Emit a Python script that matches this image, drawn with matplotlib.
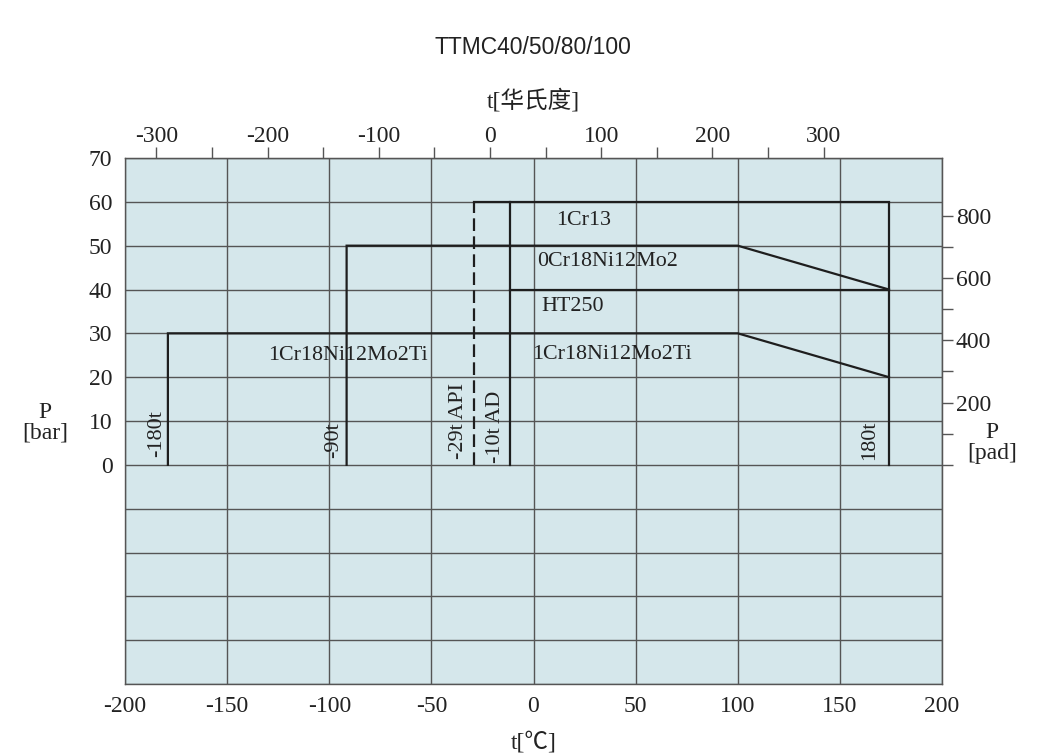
import matplotlib
matplotlib.use('Agg')
import matplotlib.pyplot as plt
from matplotlib.ticker import MultipleLocator, FixedLocator, FuncFormatter

plt.rcParams['font.family'] = ['Liberation Serif', 'Noto Sans CJK SC']
plt.rcParams['axes.unicode_minus'] = False

# pressure / temperature limit lines (t in °C, P in bar)
ti_t = [-179, -179, 100, 174]
ti_p = [0, 30, 30, 20]
mo2_t = [-91.5, -91.5, 100, 174]
mo2_p = [0, 50, 50, 40]
cr13_t = [-29, 174, 174]
cr13_p = [60, 60, 0]
ad_t = [-11.5, -11.5]
ad_p = [0, 60]
ht_t = [-11.5, 174]
ht_p = [40, 40]
api_t = [-29, -29]
api_p = [0, 60]

materials = ['1Cr13', '0Cr18Ni12Mo2', 'HT250', '1Cr18Ni12Mo2Ti', '1Cr18Ni12Mo2Ti']
mat_t = [24.6, 36.1, 19.2, -90.7, 38.3]
mat_p = [55.8, 46.3, 36.2, 25.0, 25.2]

limits = ['-180t', '-90t', '-29t API', '-10t AD', '180t']
lim_t = [-184.7, -98, -36.8, -18.7, 164.4]
lim_p = [7.1, 5.7, 10.1, 8.6, 5.5]

bg = '#d5e7eb'
grid_c = '#555555'
line_c = '#1e1e1e'
text_c = '#222222'
fs = 17

fig = plt.figure(figsize=(10.38, 7.56), dpi=100)
ax = fig.add_axes([125 / 1038, 1 - 684 / 756, 817 / 1038, 526 / 756])
ax.set_facecolor(bg)
ax.set_xlim(-200, 200)
ax.set_ylim(-50, 70)

ax.xaxis.set_major_locator(MultipleLocator(50))
ax.yaxis.set_major_locator(MultipleLocator(10))
ax.yaxis.set_major_formatter(FuncFormatter(lambda v, p: f'{v:.0f}' if v >= 0 else ''))
ax.grid(True, color=grid_c, lw=1.0)
ax.set_axisbelow(True)
ax.tick_params(axis='both', length=0, labelsize=fs, colors=text_c)
ax.tick_params(axis='x', pad=9)
ax.tick_params(axis='y', pad=9)
for s in ax.spines.values():
    s.set_color(grid_c)
    s.set_linewidth(1.0)

lw = 1.6
for t, p in [(ti_t, ti_p), (mo2_t, mo2_p), (cr13_t, cr13_p), (ad_t, ad_p), (ht_t, ht_p)]:
    ax.plot(t, p, color=line_c, lw=lw, solid_joinstyle='miter')
ax.plot(api_t, api_p, color=line_c, lw=lw, dashes=(5.7, 2.4))

for name, t, p in zip(materials, mat_t, mat_p):
    ax.text(t, p, name, fontsize=15.8, color=text_c, ha='center', va='center')
for name, t, p in zip(limits, lim_t, lim_p):
    ax.text(t, p, name, fontsize=16, color=text_c, ha='center', va='center', rotation=90)

ax.set_xlabel('t[℃]', fontsize=fs, color=text_c, labelpad=10)

# Fahrenheit scale on top (mapping)
def c2f(c):
    return 1.8365 * (c + 21.3)

def f2c(f):
    return f / 1.8365 - 21.3

top = ax.secondary_xaxis('top', functions=(c2f, f2c))
top.xaxis.set_major_locator(FixedLocator(range(-300, 301, 100)))
top.xaxis.set_minor_locator(FixedLocator(range(-250, 251, 100)))
top.tick_params(which='both', length=8, width=1.0, color=grid_c, labelsize=fs, labelcolor=text_c, pad=0)
top.spines['top'].set_color(grid_c)
top.set_xlabel('t[华氏度]', fontsize=fs, color=text_c, labelpad=13)

# right pressure scale
def b2p(b):
    return b * 100 / 7.1

def p2b(p):
    return p * 7.1 / 100

right = ax.secondary_yaxis('right', functions=(b2p, p2b))
right.yaxis.set_major_locator(FixedLocator([200, 400, 600, 800]))
right.yaxis.set_minor_locator(FixedLocator([0, 100, 300, 500, 700]))
right.tick_params(which='both', length=8, width=1.0, color=grid_c, labelsize=fs, labelcolor=text_c, pad=2)
right.spines['right'].set_color(grid_c)

fig.text(45 / 1038, 1 - 423 / 756, 'P\n[bar]', fontsize=fs, color=text_c, ha='center', va='center',
         linespacing=1.0)
fig.text(992 / 1038, 1 - 443 / 756, 'P\n[pad]', fontsize=fs, color=text_c, ha='center', va='center',
         linespacing=1.0)

fig.text(533 / 1038, 1 - 47 / 756, 'TTMC40/50/80/100', fontsize=16.5, color=text_c, ha='center', va='center',
         family='Liberation Sans')

fig.savefig('out.png', dpi=100, facecolor='white')
